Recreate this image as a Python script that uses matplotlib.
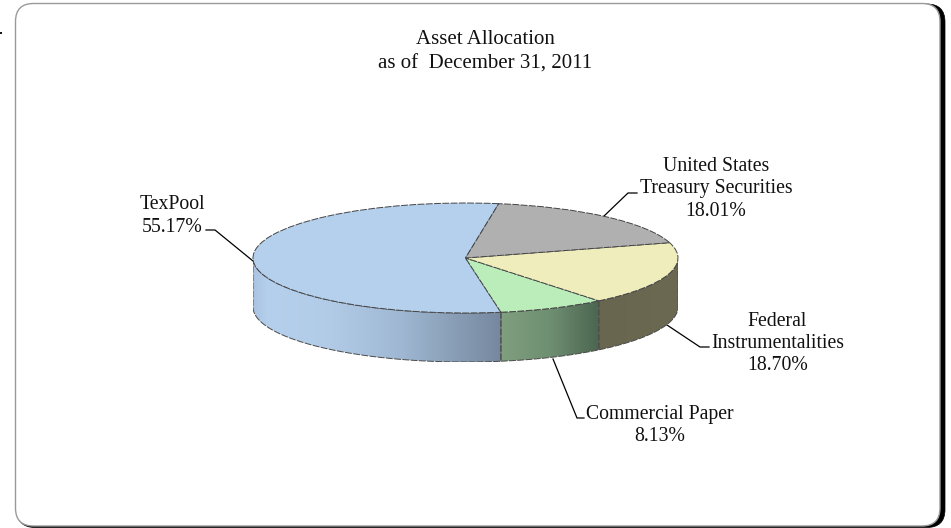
import numpy as np
import matplotlib
matplotlib.use("Agg")
import matplotlib.pyplot as plt
from matplotlib.colors import LinearSegmentedColormap
from matplotlib.patches import FancyBboxPatch, Polygon

categories = ["TexPool", "Commercial Paper", "Federal\nInstrumentalities", "United States\nTreasury Securities"]
shares = [55.17, 8.13, 18.70, 18.01]
top_colors = ["#B5D0EC", "#BAEDBA", "#EEEDBB", "#B0B0B0"]
side_stops = [
    [(0.0, "#A9C3E0"), (0.06, "#B5D0EC"), (0.3, "#B2CCE8"), (0.6, "#9FB7D2"), (1.0, "#76889E")],
    [(0.0, "#7F9F7F"), (0.5, "#6F8F72"), (1.0, "#4C654F")],
    [(0.0, "#68664F"), (1.0, "#6B6952")],
    [(0.0, "#777777"), (1.0, "#777777")],
]
title_lines = "Asset Allocation\nas of  December 31, 2011"

W, H = 951, 528
plt.rcParams["font.family"] = ["Liberation Serif", "DejaVu Serif"]
fig = plt.figure(figsize=(W / 100, H / 100), dpi=100, facecolor="white")

# overlay in pixel coordinates for the frame, text and leaders
bg = fig.add_axes([0, 0, 1, 1])
bg.set_xlim(0, W)
bg.set_ylim(H, 0)
bg.axis("off")

bg.add_patch(FancyBboxPatch((33, 20), 896, 491.5, boxstyle="round,pad=16,rounding_size=18",
                            fc="black", ec="black", lw=0.5, zorder=1))
bg.add_patch(FancyBboxPatch((31.5, 19.5), 892.5, 490.5, boxstyle="round,pad=16,rounding_size=18",
                            fc="white", ec="#9A9A9A", lw=1.0, zorder=2))
bg.plot([0, 2], [32.5, 32.5], color="black", lw=1.3, zorder=3, solid_capstyle="butt")

# pie axes: x -1..1 spans the ellipse, y 1..-1 spans its top face
cx0, cx1, top, mid_bottom = 253, 678, 203, 313
depth_px = 49
ry_px = (mid_bottom - top) / 2
depth = depth_px / ry_px
ax = fig.add_axes([cx0 / W, 1 - (mid_bottom + depth_px) / H, (cx1 - cx0) / W,
                   (mid_bottom + depth_px - top) / H])
wedges, _ = ax.pie(shares, colors=top_colors, startangle=81, counterclock=True, radius=1,
                   wedgeprops=dict(edgecolor="#444444", linewidth=0.7,
                                   linestyle=(0, (7, 1.5)), zorder=4))
ax.set_aspect("auto")
ax.axis("off")

# walls: one gradient per slice, taken from the slice angles
for wedge, stops in zip(wedges, side_stops):
    a0 = max(wedge.theta1, 180)
    a1 = min(wedge.theta2, 360)
    if a1 <= a0:
        continue
    th = np.radians(np.linspace(a0, a1, 200))
    xs, ys = np.cos(th), np.sin(th)
    verts = np.r_[np.c_[xs, ys], np.c_[xs[::-1], ys[::-1] - depth]]
    poly = Polygon(verts, closed=True, fc="none", ec="none", transform=ax.transData)
    ax.add_patch(poly)
    cmap = LinearSegmentedColormap.from_list("side", stops)
    im = ax.imshow(np.linspace(0, 1, 256)[None, :], cmap=cmap, aspect="auto", zorder=2,
                   extent=(xs.min(), xs.max(), -1 - depth, 1), interpolation="bilinear")
    im.set_clip_path(poly)
    ax.add_patch(Polygon(verts, closed=True, fc="none", ec="#4A4A4A", lw=0.7, zorder=3,
                         linestyle=(0, (7, 1.5)), transform=ax.transData))
ax.set_xlim(-1, 1)
ax.set_ylim(-1 - depth, 1)

# text
txt = dict(ha="center", va="center", color="#111111", zorder=6)
bg.text(485, 52, title_lines, fontsize=15, linespacing=1.42, **txt)


def label(i, x, y):
    bg.text(x, y, f"{categories[i]}\n{shares[i]:.2f}%", fontsize=14.2, linespacing=1.25, **txt)


label(0, 172.5, 216)
label(1, 660, 425.5)
label(2, 777.5, 343.5)
label(3, 716, 189)

# leaders
lead = dict(color="black", lw=0.9, zorder=6, solid_joinstyle="miter")
bg.plot([206, 215, 253], [230, 230, 261], **lead)
bg.plot([637, 628, 603], [193, 193, 217], **lead)
bg.plot([667, 700, 709], [325, 347, 347], **lead)
bg.plot([553, 577, 584], [359, 418, 418], **lead)

fig.savefig("out.png", dpi=100)
